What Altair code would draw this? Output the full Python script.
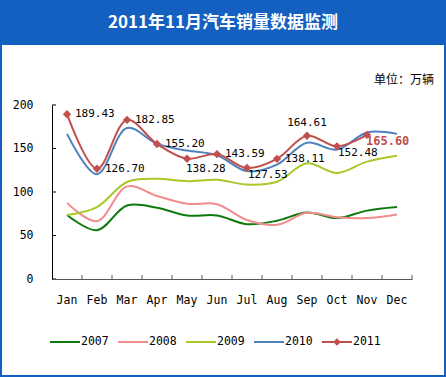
import altair as alt
import pandas as pd

months = ["Jan", "Feb", "Mar", "Apr", "May", "Jun", "Jul", "Aug", "Sep", "Oct", "Nov", "Dec"]
years = ["2007", "2008", "2009", "2010", "2011"]
s2007 = [73.6, 56.0, 84.5, 82.0, 73.0, 73.0, 63.0, 67.0, 76.5, 70.0, 78.6, 82.7]
s2008 = [87.5, 66.4, 106.5, 95.5, 86.5, 86.0, 67.9, 62.3, 76.1, 71.1, 70.1, 74.2]
s2009 = [73.6, 82.7, 111.5, 115.2, 112.5, 114.1, 108.5, 111.8, 133.0, 121.9, 134.9, 141.6]
s2010 = [166.8, 120.4, 173.5, 155.4, 147.6, 142.3, 124.0, 131.5, 156.7, 148.7, 168.5, 166.8]
s2011 = [189.43, 126.70, 182.85, 155.20, 138.28, 143.59, 127.53, 138.11, 164.61, 152.48, 165.60]
label_place = ["right", "right", "right", "right", "below", "right", "belowright",
               "right", "above", "belowright", "last"]
y_ticks = [0, 50, 100, 150, 200]

colors = ["#0E7A0E", "#F08C8C", "#A8C828", "#4F81BD", "#C0504D"]
title_text = "2011年11月汽车销量数据监测"
unit_text = "单位：万辆"

W, H = 360, 174
PL, PT, PR, PB = 52, 105, 34, 98
FULLW, FULLH = 446, 377
BLUE = "#1460C0"
MONO = "DejaVu Sans Mono"

series = {"2007": s2007, "2008": s2008, "2009": s2009, "2010": s2010, "2011": s2011}
rows = []
for y in years:
    for m, v in zip(months, series[y]):
        rows.append({"month": m, "year": y, "value": v})
df = pd.DataFrame(rows)
df11 = df[df.year == "2011"].copy()
df11["place"] = label_place
df11["label"] = df11["value"].map(lambda v: f"{v:.2f}")

xs = alt.X("month:N", sort=months, scale=alt.Scale(domain=months, paddingInner=0, paddingOuter=0),
           axis=alt.Axis(title=None, labelAngle=0, ticks=False, tickSize=0, labelPadding=15,
                         labelFont=MONO, labelFontSize=11.5, labelColor="black",
                         domainColor="#555555", domainWidth=1, zindex=1))
ys = alt.Y("value:Q", scale=alt.Scale(domain=[0, 200], nice=False),
           axis=alt.Axis(title=None, values=y_ticks, grid=False, ticks=False, tickSize=0,
                         labelPadding=19, labelFont=MONO, labelFontSize=11.5, labelColor="black",
                         domainColor="black", domainWidth=1, zindex=1))
color = alt.Color("year:N", scale=alt.Scale(domain=years, range=colors), legend=None)

frame = alt.Chart(pd.DataFrame({"a": [0]})).mark_rect(filled=False, stroke=BLUE, strokeWidth=2).encode(
    x=alt.value(-PL + 1), x2=alt.value(FULLW - PL - 1), y=alt.value(-PT + 1), y2=alt.value(FULLH - PT - 1))
header = alt.Chart(pd.DataFrame({"a": [0]})).mark_rect(fill=BLUE).encode(
    x=alt.value(-PL), x2=alt.value(FULLW - PL), y=alt.value(-PT), y2=alt.value(-PT + 45))
title = alt.Chart(pd.DataFrame({"t": [title_text]})).mark_text(
    color="white", fontSize=17, fontWeight="bold", font="Noto Sans CJK SC", align="center", baseline="middle"
).encode(text="t:N", x=alt.value(FULLW / 2 - PL), y=alt.value(-PT + 23))
unit = alt.Chart(pd.DataFrame({"t": [unit_text]})).mark_text(
    color="black", fontSize=12, font="Noto Sans CJK SC", align="right", baseline="middle"
).encode(text="t:N", x=alt.value(434 - PL), y=alt.value(80 - PT))

lines = alt.Chart(df).mark_line(strokeWidth=2, interpolate="catmull-rom").encode(
    x=xs, y=ys, color=color, detail="year:N")
pts = alt.Chart(df11).mark_point(shape="diamond", size=70, filled=True, opacity=1, color=colors[4]).encode(
    x=xs, y=ys)

xt = pd.DataFrame({"month": months[1:]})
xticks = alt.Chart(xt).mark_rule(xOffset=-15, color="#555555").encode(
    x=alt.X("month:N", sort=months), y=alt.value(H), y2=alt.value(H - 4))
xend = alt.Chart(pd.DataFrame({"month": [months[-1]]})).mark_rule(xOffset=15, color="#555555").encode(
    x=alt.X("month:N", sort=months), y=alt.value(H), y2=alt.value(H - 4))
yticks = alt.Chart(pd.DataFrame({"value": y_ticks})).mark_rule(color="black").encode(
    y="value:Q", x=alt.value(0), x2=alt.value(4))

offsets = {
    "right": dict(align="left", dx=8, dy=0),
    "below": dict(align="left", dx=-1, dy=10),
    "belowright": dict(align="left", dx=1, dy=7),
    "above": dict(align="center", dx=0, dy=-13),
}
label_layers = []
for p, o in offsets.items():
    label_layers.append(
        alt.Chart(df11[df11.place == p]).mark_text(
            font=MONO, fontSize=11, color="black", baseline="middle", **o
        ).encode(x=xs, y=ys, text="label:N"))
label_layers.append(
    alt.Chart(df11[df11.place == "last"]).mark_text(
        font=MONO, fontSize=12, fontWeight="bold", color=colors[4], baseline="middle",
        align="left", dx=-1, dy=6
    ).encode(x=xs, y=ys, text="label:N"))

legend_layers = []
LY = 342 - PT
for i, (yr, c) in enumerate(zip(years, colors)):
    x0 = 50 - PL + i * 68
    legend_layers.append(alt.Chart(pd.DataFrame({"a": [0]})).mark_rule(color=c, strokeWidth=2).encode(
        x=alt.value(x0), x2=alt.value(x0 + 30), y=alt.value(LY)))
    legend_layers.append(alt.Chart(pd.DataFrame({"t": [yr]})).mark_text(
        font=MONO, fontSize=11.5, color="black", align="left", baseline="middle").encode(
        text="t:N", x=alt.value(x0 + 31), y=alt.value(LY)))
    if yr == "2011":
        legend_layers.append(alt.Chart(pd.DataFrame({"a": [0]})).mark_point(
            shape="diamond", size=60, filled=True, opacity=1, color=c).encode(
            x=alt.value(x0 + 15), y=alt.value(LY)))

chart = alt.layer(frame, header, title, unit, lines, pts, xticks, xend, yticks,
                  *label_layers, *legend_layers).properties(
    width=W, height=H,
    autosize=alt.AutoSizeParams(type="none"),
    padding={"left": PL, "top": PT, "right": PR, "bottom": PB},
    background="white",
).configure_view(stroke=None)

chart.save("out.html", embed_options={"renderer": "svg", "actions": False})
